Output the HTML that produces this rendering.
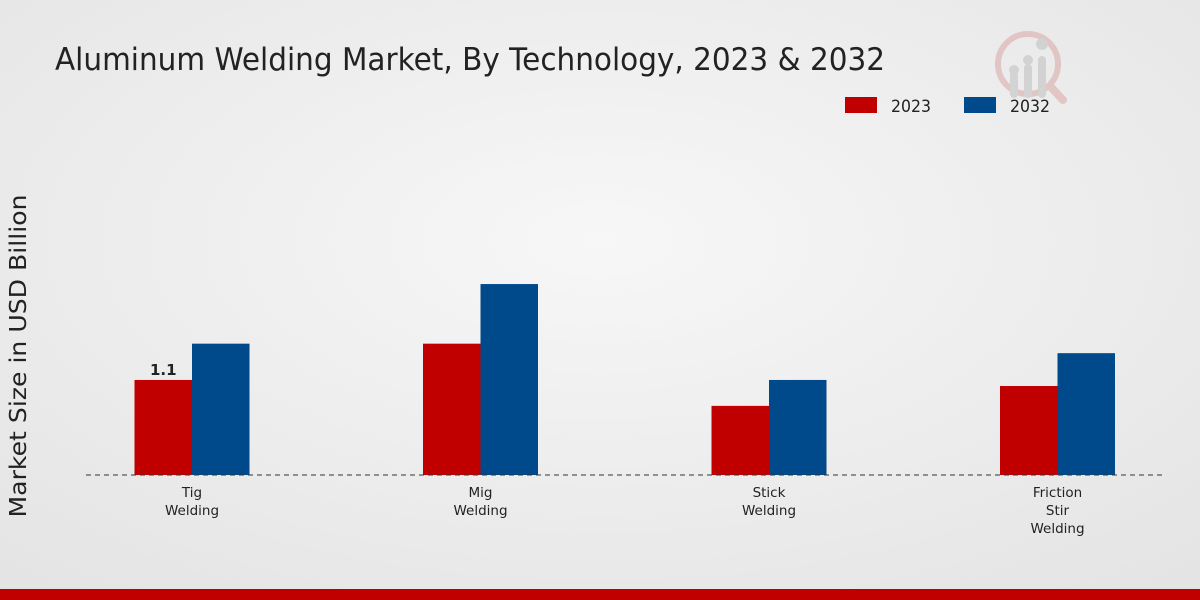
<!DOCTYPE html>
<html><head><meta charset="utf-8"><style>
body{margin:0;width:1200px;height:600px;overflow:hidden;font-family:"Liberation Sans","DejaVu Sans",sans-serif;}
svg{display:block}
</style></head><body>
<svg width="1200" height="600" xmlns="http://www.w3.org/2000/svg">
<defs><radialGradient id="bg" cx="50%" cy="40%" r="75%"><stop offset="0" stop-color="#f7f7f7"/><stop offset="1" stop-color="#e4e4e4"/></radialGradient></defs>
<rect width="1200" height="600" fill="url(#bg)"/>
<text x="55" y="70" font-family="DejaVu Sans, sans-serif" font-size="31" fill="#222" textLength="830" lengthAdjust="spacingAndGlyphs">Aluminum Welding Market, By Technology, 2023 &amp; 2032</text>
<g opacity="0.5">
<circle cx="1028" cy="64" r="30" fill="none" stroke="#d9a0a0" stroke-width="6"/>
<line x1="1050" y1="86" x2="1063" y2="100" stroke="#d9a0a0" stroke-width="8" stroke-linecap="round"/>
<rect x="1010" y="72" width="8" height="26" rx="4" fill="#bbb"/><rect x="1024" y="64" width="8" height="34" rx="4" fill="#bbb"/><rect x="1038" y="56" width="8" height="42" rx="4" fill="#bbb"/>
<circle cx="1014" cy="70" r="5" fill="#bbb"/><circle cx="1028" cy="60" r="5" fill="#bbb"/><circle cx="1042" cy="44" r="6" fill="#bbb"/>
</g>
<g>
<rect x="845" y="97" width="32" height="16" fill="#c00000"/>
<text x="891" y="112" font-family="DejaVu Sans, sans-serif" font-size="17" fill="#222" textLength="40" lengthAdjust="spacingAndGlyphs">2023</text>
<rect x="964" y="97" width="32" height="16" fill="#004a8c"/>
<text x="1010" y="112" font-family="DejaVu Sans, sans-serif" font-size="17" fill="#222" textLength="40" lengthAdjust="spacingAndGlyphs">2032</text>
</g>
<text transform="translate(26,356) rotate(-90)" text-anchor="middle" font-family="DejaVu Sans, sans-serif" font-size="23" fill="#222" textLength="323" lengthAdjust="spacingAndGlyphs">Market Size in USD Billion</text>
<g id="bars"></g>
<line x1="86" y1="475" x2="1165" y2="475" stroke="#333" stroke-width="1" stroke-dasharray="5,4"/>
<rect x="0" y="589" width="1200" height="11" fill="#c00000"/>
</svg>
<script>
const categories=[["Tig","Welding"],["Mig","Welding"],["Stick","Welding"],["Friction","Stir","Welding"]];
const values2023=[1.1,1.52,0.8,1.03];
const values2032=[1.52,2.21,1.1,1.41];
const labels2023=["1.1",null,null,null];
const NS="http://www.w3.org/2000/svg";
const g=document.getElementById('bars');
const base=475,scale=86.4,x0=192,step=288.5,bw=57.5;
const y=v=>base-v*scale;
function mk(t,a){const e=document.createElementNS(NS,t);for(const k in a)e.setAttribute(k,a[k]);g.appendChild(e);return e;}
categories.forEach((c,i)=>{
 const cx=x0+i*step;
 const r1=mk('rect',{x:cx-bw,y:y(values2023[i]),width:bw,height:values2023[i]*scale,fill:'#c00000'});
 
 
 const r2=mk('rect',{x:cx,y:y(values2032[i]),width:bw,height:values2032[i]*scale,fill:'#004a8c'});
 
 
 if(labels2023[i]){const t=mk('text',{x:cx-bw/2,y:y(values2023[i])-5,'text-anchor':'middle','font-size':'15','font-weight':'bold','font-family':'DejaVu Sans, sans-serif',fill:'#222'});t.textContent=labels2023[i];
 
 }
 c.forEach((line,j)=>{const t=mk('text',{x:cx,y:497+j*18,'text-anchor':'middle','font-size':'13.5','font-family':'DejaVu Sans, sans-serif',fill:'#222'});t.textContent=line;
 
 });
});
</script>
</body></html>
